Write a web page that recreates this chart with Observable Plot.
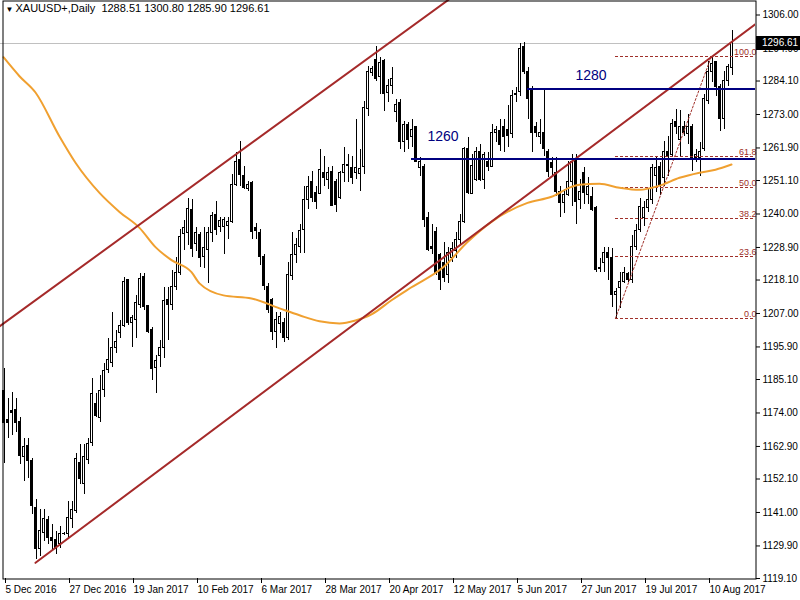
<!DOCTYPE html>
<html><head><meta charset="utf-8">
<script src="https://cdn.jsdelivr.net/npm/d3@7"></script>
<script src="https://cdn.jsdelivr.net/npm/@observablehq/plot@0.6"></script>
<style>
html,body{margin:0;padding:0;background:#fff;}
#chart svg{display:block;}
</style></head><body><div id="chart"></div>
<script>
const symbol = "XAUUSD+,Daily";
const openP = [1181.4,1171.7,1174.7,1175.0,1171.0,1159.4,1163.0,1158.0,1142.4,1128.8,1134.1,1138.4,1132.4,1132.0,1130.4,1133.8,1133.8,1138.8,1141.4,1157.4,1150.4,1158.4,1164.0,1177.1,1172.4,
1181.7,1188.4,1190.7,1195.4,1200.4,1203.0,1218.0,1203.7,1204.7,1209.7,1219.0,1209.4,1201.4,1189.0,1193.0,1195.7,1211.4,1209.7,1215.7,1220.4,
1233.5,1233.7,1241.4,1230.0,1233.0,1225.7,1228.0,1233.7,1239.7,1235.7,1235.7,1236.0,1237.4,1249.7,1258.0,1252.7,1248.4,1250.4,1235.4,1233.7,1225.7,1215.7,1211.4,1200.7,1203.4,1204.0,1199.0,1219.4,1226.4,1229.0,
1234.7,1244.7,1250.7,1247.0,1246.7,1253.7,1251.4,1254.0,1250.7,1245.4,1253.7,1256.4,1255.4,1253.7,1253.4,1255.7,1274.7,1286.7,1291.0,1285.4,1290.7,1280.0,1282.4,1273.7,1276.7,1264.0,1269.4,1265.4,1268.7,1255.4,
1255.7,1238.7,1229.0,1234.0,1226.4,1223.7,1219.7,1225.4,1227.7,1231.4,1237.4,1261.7,1246.7,1251.4,1260.7,1251.4,1257.4,1255.7,1267.0,1267.4,1269.0,1268.0,1266.4,1279.4,1280.4,1295.4,1287.0,1280.7,1268.7,1265.7,1266.7,1260.7,1257.0,1253.7,1247.4,1243.7,1246.4,
1250.7,1258.0,1244.7,1253.7,1246.4,1245.7,1242.0,1222.0,1223.7,1227.0,1225.4,1213.0,1215.4,1217.4,1220.0,1218.0,1229.0,1234.7,1238.7,1242.0,1244.7,
1252.7,1255.7,1252.0,1260.7,1259.7,1270.4,1264.7,1269.0,1266.4,1269.0,1258.7,1258.7,1261.4,1277.4,1287.0,1290.4,1282.0,1271.4,1284.0,1288.51];
const highP = [1188.7,1178.7,1180.7,1178.7,1172.4,1165.4,1165.4,1159.0,1145.4,1142.0,1142.0,1139.8,1137.1,1134.8,1136.4,1134.4,1144.8,1144.8,1160.4,1163.7,1163.7,1165.4,1185.4,1180.4,1186.4,
1190.4,1198.7,1207.4,1201.4,1204.7,1219.0,1218.4,1206.4,1213.0,1220.4,1220.4,1209.7,1202.4,1193.0,1198.0,1215.7,1215.7,1221.4,1225.7,1234.7,
1238.0,1245.0,1244.7,1235.4,1233.7,1235.4,1235.4,1240.4,1244.0,1239.0,1239.0,1238.7,1253.0,1260.4,1264.0,1255.7,1250.7,1250.7,1237.0,1234.7,1226.4,1217.0,1212.0,1207.4,1207.4,1205.4,1224.0,1233.7,1232.0,1236.4,
1249.0,1252.4,1254.0,1249.0,1261.4,1259.0,1255.4,1255.7,1251.4,1254.0,1262.0,1259.7,1259.0,1271.4,1261.4,1277.4,1289.0,1289.0,1295.7,1292.0,1291.4,1284.7,1288.7,1278.0,1278.0,1270.7,1270.4,1271.4,1269.0,1258.7,
1256.4,1240.4,1236.4,1235.4,1227.0,1230.4,1229.0,1230.7,1233.7,1239.7,1262.0,1265.4,1259.7,1262.0,1263.0,1260.4,1260.4,1269.7,1269.0,1271.4,1271.4,1276.0,1281.0,1282.0,1296.7,1297.0,1288.7,1282.4,1270.4,1271.4,1281.4,1261.4,1258.7,1258.7,1249.0,1248.0,1257.4,
1259.7,1259.7,1251.4,1255.4,1252.0,1248.7,1242.4,1225.4,1229.0,1229.0,1228.7,1215.4,1220.7,1222.4,1220.7,1233.0,1236.4,1245.0,1244.0,1248.0,1256.4,
1259.0,1257.0,1264.0,1265.7,1271.4,1274.7,1274.4,1270.7,1273.0,1269.7,1261.4,1263.7,1279.7,1290.7,1292.4,1290.7,1283.0,1287.4,1289.7,1300.80];
const lowP = [1157.4,1165.4,1166.4,1167.4,1157.0,1151.4,1152.4,1140.4,1125.4,1126.4,1131.4,1130.4,1128.4,1127.1,1129.1,1133.2,1132.4,1135.8,1140.8,1150.4,1147.0,1157.0,1163.0,1172.4,1171.0,
1179.0,1187.0,1189.0,1193.7,1198.7,1202.4,1203.0,1195.7,1198.7,1208.7,1208.0,1200.4,1184.7,1180.4,1189.0,1192.0,1198.0,1208.0,1214.7,1219.7,
1228.0,1229.7,1225.7,1227.4,1222.4,1222.0,1217.0,1230.7,1233.0,1233.7,1226.4,1231.4,1237.0,1249.0,1249.0,1248.0,1247.4,1231.4,1231.4,1223.0,1214.7,1207.0,1198.0,1195.4,1200.4,1197.4,1198.0,1218.0,1223.7,1227.0,
1227.0,1241.4,1243.7,1241.4,1246.4,1249.0,1248.0,1242.4,1240.4,1244.7,1250.4,1250.4,1249.7,1251.4,1247.4,1253.0,1272.4,1285.7,1284.0,1279.7,1274.0,1277.0,1279.7,1270.4,1261.4,1260.4,1261.4,1262.0,1257.0,1252.4,
1235.4,1227.4,1226.4,1219.7,1214.7,1217.4,1217.0,1224.0,1225.4,1230.0,1237.0,1246.4,1246.4,1250.7,1250.7,1248.0,1254.0,1255.4,1263.7,1260.7,1260.4,1262.0,1265.0,1277.0,1279.0,1286.4,1271.4,1260.4,1265.4,1263.0,1259.0,1252.0,1252.0,1245.7,1239.0,1240.0,1245.7,
1242.4,1236.4,1241.4,1243.0,1243.0,1240.7,1220.7,1220.7,1220.7,1218.0,1209.0,1205.4,1208.7,1217.0,1217.4,1217.0,1228.0,1234.0,1235.7,1240.4,1243.0,
1247.0,1246.0,1249.0,1252.4,1258.7,1266.4,1259.0,1265.7,1263.0,1254.0,1257.0,1252.4,1260.7,1276.4,1283.7,1279.0,1267.4,1268.0,1282.4,1285.90];
const closeP = [1170.7,1170.7,1174.0,1170.7,1159.7,1162.7,1158.0,1143.0,1128.8,1134.8,1138.8,1132.4,1131.4,1128.8,1133.8,1133.9,1139.1,1141.8,1158.7,1152.1,1159.4,1163.7,1180.4,1173.1,1181.4,
1188.0,1191.7,1195.7,1197.7,1203.0,1217.4,1204.0,1205.4,1210.4,1218.4,1209.0,1200.7,1188.7,1191.4,1195.7,1211.0,1209.7,1215.7,1220.4,1232.4,
1235.4,1241.7,1228.4,1233.7,1225.4,1228.7,1233.7,1239.4,1234.7,1237.7,1238.0,1237.4,1249.7,1257.4,1253.0,1248.7,1249.7,1234.0,1234.4,1225.7,1216.0,1208.0,1201.0,1205.0,1205.7,1199.0,1219.7,1226.4,1229.7,1234.4,
1244.7,1249.0,1245.4,1244.0,1254.7,1252.0,1253.7,1242.7,1243.0,1253.7,1256.4,1256.0,1252.0,1255.4,1255.0,1275.0,1287.0,1288.0,1284.7,1290.0,1279.7,1282.4,1284.7,1276.0,1264.0,1269.4,1264.4,1268.0,1257.4,1257.4,
1238.0,1228.0,1228.4,1220.4,1218.0,1218.7,1227.0,1228.4,1231.4,1237.4,1261.7,1247.0,1256.0,1260.7,1251.4,1259.7,1255.7,1267.0,1267.7,1263.0,1265.7,1266.0,1279.0,1279.9,1294.7,1287.0,1278.0,1267.0,1267.0,1266.7,1261.4,1254.0,1255.4,1247.4,1243.7,1246.4,1250.7,
1257.4,1244.0,1247.4,1247.0,1249.0,1241.4,1221.4,1221.7,1227.0,1225.4,1213.0,1214.0,1217.4,1220.4,1218.0,1229.0,1234.4,1242.4,1242.0,1244.7,1255.4,
1255.4,1249.7,1260.7,1259.0,1269.7,1269.0,1269.0,1267.0,1269.0,1258.7,1259.7,1260.7,1278.0,1287.0,1289.7,1282.0,1271.4,1284.0,1288.7,1296.61];

const xTickIdx = [0,16,32,48,64,80,96,112,128,144,160,176];
const xTickLabels = ["5 Dec 2016","27 Dec 2016","19 Jan 2017","10 Feb 2017","6 Mar 2017","28 Mar 2017","20 Apr 2017","12 May 2017","5 Jun 2017","27 Jun 2017","19 Jul 2017","10 Aug 2017"];
const yTicks = [1306.00,1294.90,1284.10,1273.00,1261.90,1251.10,1240.00,1228.90,1218.10,1207.00,1195.90,1185.10,1174.00,1162.90,1152.10,1141.00,1129.90,1119.10];

const maIdx = [0,4,8,14,18,24,29,34,38,42,47,49,55,62,69,74,79,84,88,92,97,102,110,116,122,131,137,142,144,149,154,159,164,169,174,178,182];
const maVal = [1292.0,1285.7,1280.3,1265.7,1257.0,1247.0,1240.7,1235.4,1229.0,1224.7,1220.7,1217.0,1213.0,1212.0,1208.7,1206.4,1204.4,1203.7,1204.7,1206.7,1211.4,1215.7,1222.4,1230.7,1237.4,1243.7,1245.7,1249.0,1249.7,1250.0,1248.7,1248.0,1249.4,1252.0,1253.7,1254.7,1256.4];

const chanUpperIdx = [-1, 120];
const chanUpperVal = [1202.7, 1319.5];
const chanLowerIdx = [8, 189];
const chanLowerVal = [1124.3, 1304.0];

const fibIdx = [153, 177];
const fibVal = [1205.4, 1292.4];
const fibLevels = [0, 23.6, 38.2, 50.0, 61.8, 100.0];

const levelIdx = [131, 102];
const levelVal = [1281.4, 1258.3];
const levelText = ["1280", "1260"];
const levelTextIdx = [143, 106];
const levelTextVal = [1285.9, 1265.8];

const xDomain = [-0.75, 188];
const yDomain = [1119.1, 1310.81];

const candles = openP.map((o, i) => ({i, open: o, high: highP[i], low: lowP[i], close: closeP[i]}));
const last = candles[candles.length - 1];
const bulls = candles.filter(d => d.close - d.open > 0.7);
const fibRows = fibLevels.map(l => ({l, p: fibVal[0] + (fibVal[1] - fibVal[0]) * l / 100}));
const levels = levelVal.map((p, k) => ({i: levelIdx[k], p}));
const levelLabels = levelText.map((t, k) => ({t, i: levelTextIdx[k], p: levelTextVal[k]}));
const ma = maIdx.map((i, k) => ({i, p: maVal[k]}));
const chUp = chanUpperIdx.map((i, k) => ({i, p: chanUpperVal[k]}));
const chLo = chanLowerIdx.map((i, k) => ({i, p: chanLowerVal[k]}));
const fibDiag = fibIdx.map((i, k) => ({i, p: fibVal[k]}));
const labelMap = new Map(xTickIdx.map((v, k) => [v, xTickLabels[k]]));

const FONT = "Liberation Sans, Arial, sans-serif";
const RED = "#a52a2a";
const FIB = "#a0302a";
const NAVY = "#000080";

const chart = Plot.plot({
  width: 800, height: 600,
  marginLeft: 0, marginRight: 45, marginTop: 0, marginBottom: 22,
  style: {fontFamily: FONT, fontSize: "10px", color: "black", background: "white"},
  x: {domain: xDomain, label: null},
  y: {domain: yDomain, label: null},
  marks: [
    Plot.ruleY([last.close], {stroke: "#c0c0c0", strokeWidth: 1, shapeRendering: "crispEdges"}),
    Plot.ruleX(candles, {x: "i", y1: "low", y2: "high", stroke: "black", strokeWidth: 1, dx: 0.5, shapeRendering: "crispEdges"}),
    Plot.rect(candles, {x1: d => d.i - 0.25, x2: d => d.i + 0.5, y1: "open", y2: "close", fill: "black", insetTop: -0.5, insetBottom: -0.5, shapeRendering: "crispEdges"}),
    Plot.rect(bulls, {x1: d => d.i, x2: d => d.i + 0.25, y1: "open", y2: "close", fill: "white", insetTop: 0.5, insetBottom: 0.5, shapeRendering: "crispEdges"}),
    Plot.ruleY(fibRows, {y: "p", x1: fibIdx[0], x2: xDomain[1], stroke: FIB, strokeWidth: 1, strokeDasharray: "3,2", shapeRendering: "crispEdges"}),
    Plot.line(fibDiag, {x: "i", y: "p", stroke: FIB, strokeWidth: 1, strokeDasharray: "2,2"}),
    Plot.text(fibRows, {y: "p", text: d => d.l.toFixed(1), frameAnchor: "right", textAnchor: "end", lineAnchor: "bottom", dy: -1, dx: 1, fill: FIB, fontSize: 9}),
    Plot.line(ma, {x: "i", y: "p", stroke: "#f0a030", strokeWidth: 2, curve: "monotone-x"}),
    Plot.line(chUp, {x: "i", y: "p", stroke: RED, strokeWidth: 2, clip: true}),
    Plot.line(chLo, {x: "i", y: "p", stroke: RED, strokeWidth: 2, clip: true}),
    Plot.ruleY(levels, {y: "p", x1: "i", x2: xDomain[1], stroke: NAVY, strokeWidth: 2, shapeRendering: "crispEdges"}),
    Plot.text(levelLabels, {x: "i", y: "p", text: "t", textAnchor: "start", fill: NAVY, fontSize: 14}),
    Plot.axisY(yTicks, {anchor: "right", tickFormat: d => d.toFixed(2), tickSize: 4, tickPadding: 3, fontSize: 10}),
    Plot.axisX(xTickIdx, {anchor: "bottom", tickFormat: d => labelMap.get(d), tickSize: 5, tickPadding: 2, textAnchor: "start", dx: 2, fontSize: 10}),
    Plot.frame({stroke: "black", insetLeft: 2.5, insetTop: 0.5, insetRight: -0.5, insetBottom: -0.5}),
    Plot.text([`${symbol}  ${last.open.toFixed(2)} ${last.high.toFixed(2)} ${last.low.toFixed(2)} ${last.close.toFixed(2)}`], {frameAnchor: "top-left", dx: 15, dy: 4, fontSize: 11, fill: "black"}),
    Plot.text(["▼"], {frameAnchor: "top-left", dx: 5, dy: 6, fontSize: 8, fill: "black"})
  ]
});

const ys = chart.scale("y");
const yc = ys.apply(last.close);
const g = d3.select(chart).append("g");
g.append("rect").attr("x", 756).attr("y", Math.round(yc) - 7).attr("width", 44).attr("height", 14).attr("fill", "black");
g.append("text").attr("x", 762).attr("y", yc).attr("dy", "0.32em").attr("fill", "white")
  .attr("text-anchor", "start")
  .attr("font-family", FONT).attr("font-size", 10).text(last.close.toFixed(2));

document.getElementById("chart").appendChild(chart);
</script></body></html>
